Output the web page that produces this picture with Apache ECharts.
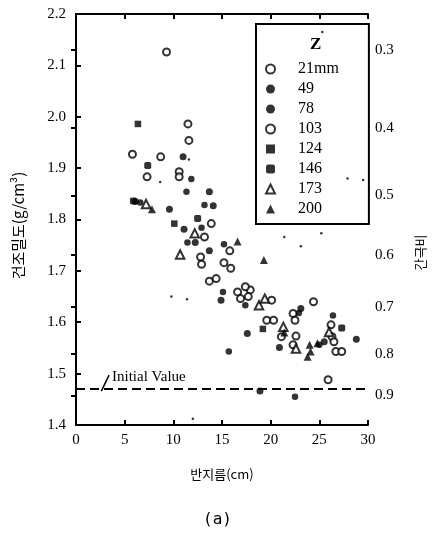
<!DOCTYPE html>
<html>
<head>
<meta charset="utf-8">
<script src="https://cdn.jsdelivr.net/npm/echarts@6/dist/echarts.min.js"></script>
<style>
  html, body { margin: 0; padding: 0; background: #fff; }
  #chart { width: 435px; height: 533px; }
</style>
</head>
<body>
<div id="chart"></div>
<script>
// Z 깊이별 측정값 [반지름(cm), 건조밀도(g/cm3)]
var z21 = [[9.3,2.126],[11.5,1.986],[5.8,1.927],[7.3,1.883],[10.6,1.893],[13.2,1.766],[12.8,1.727],[15.2,1.716],[13.7,1.680],[16.6,1.659],[17.9,1.663],[19.6,1.604],[22.3,1.617],[24.4,1.640],[22.6,1.573],[26.2,1.595],[26.7,1.543],[25.9,1.488]];
var z49 = [[11.0,1.922],[13.7,1.854],[6.1,1.835],[9.6,1.820],[14.1,1.827],[11.1,1.781],[12.25,1.755],[13.7,1.739],[14.9,1.643],[17.6,1.578],[20.9,1.551],[23.1,1.627],[28.8,1.567],[25.5,1.562],[18.9,1.466]];
var z78 = [[11.85,1.879],[11.35,1.854],[6.6,1.833],[13.2,1.828],[12.9,1.784],[11.45,1.755],[15.2,1.752],[15.1,1.659],[17.4,1.633],[15.7,1.543],[22.9,1.618],[26.4,1.613],[25.0,1.556],[22.5,1.455]];
var z103 = [[11.6,1.954],[8.7,1.922],[10.6,1.883],[13.9,1.792],[15.8,1.739],[12.9,1.713],[15.9,1.705],[14.4,1.685],[17.4,1.669],[16.9,1.646],[17.7,1.650],[20.1,1.643],[20.3,1.604],[22.5,1.604],[21.1,1.572],[22.3,1.556],[26.3,1.572],[26.5,1.562],[27.3,1.543]];
var z124 = [[6.36,1.986],[10.1,1.792],[19.2,1.587]];
var z146 = [[7.37,1.905],[12.5,1.802],[27.3,1.589],[5.9,1.836]];
var z173 = [[7.2,1.830],[12.2,1.773],[10.7,1.732],[18.8,1.633],[19.4,1.646],[21.3,1.591],[22.6,1.549],[26.0,1.581]];
var z200 = [[7.8,1.820],[16.6,1.757],[19.3,1.721],[24.0,1.556],[23.8,1.533],[24.1,1.543],[21.4,1.580],[24.8,1.559]];
// 작은 점들
var specks = [[9.8,1.650],[11.4,1.645],[8.65,1.873],[11.6,1.917],[21.4,1.766],[23.1,1.748],[25.2,1.773],[27.9,1.880],[29.5,1.877],[25.3,2.165],[12.0,1.412]];

var seriesNames = ['21mm', '49', '78', '103', '124', '146', '173', '200'];
var initialValue = 1.47;
var leaderLine = [[2.6, 1.466], [3.4, 1.497]];

// 오른쪽 축: 간극비 눈금 (e = Gs/ρd - 1)
var voidRatios = [0.3, 0.4, 0.5, 0.6, 0.7, 0.8, 0.9];
var GS = 2.77;
var voidTickDensity = voidRatios.map(function (e) { return GS / (1 + e); });

var serif = 'Liberation Serif';
var kr = 'Noto Sans CJK KR';

function openStyle() {
  return { color: '#fff', borderColor: '#000', borderWidth: 2 };
}
function solidStyle() {
  return { color: '#000' };
}

var myChart = echarts.init(document.getElementById('chart'));
myChart.setOption({
  animation: false,
  title: [
    { text: 'Z', left: 305, top: 31, textStyle: { fontFamily: serif, fontSize: 17, fontWeight: 'bold', color: '#000' } },
    { text: '(a)', left: 'center', top: 507, textStyle: { fontFamily: 'DejaVu Sans Mono', fontSize: 16, fontWeight: 'normal', color: '#000' } }
  ],
  legend: {
    data: seriesNames,
    orient: 'vertical',
    left: 256,
    top: 24,
    width: 105,
    padding: [36, 30, 6, 9],
    itemWidth: 9,
    itemHeight: 9,
    itemGap: 2,
    borderColor: '#000',
    borderWidth: 2,
    textStyle: { fontFamily: serif, fontSize: 16, color: '#000', lineHeight: 18, padding: [0, 0, 0, 18] }
  },
  grid: { left: 76, right: 60, top: 14, bottom: 108 },
  xAxis: [{
    type: 'value', min: 0, max: 30, interval: 5,
    name: '반지름(cm)', nameLocation: 'middle', nameGap: 43,
    nameTextStyle: { fontFamily: kr, fontSize: 13, color: '#000' },
    axisLine: { lineStyle: { color: '#000', width: 2 } },
    axisTick: { inside: true, length: 5, lineStyle: { color: '#000', width: 2 } },
    axisLabel: { fontFamily: serif, fontSize: 15, color: '#000', margin: 8 },
    splitLine: { show: false }
  }, {
    type: 'value', min: 0, max: 30, interval: 5, position: 'top',
    axisLine: { lineStyle: { color: '#000', width: 2 } },
    axisTick: { inside: true, length: 5, lineStyle: { color: '#000', width: 2 } },
    axisLabel: { show: false },
    splitLine: { show: false }
  }],
  yAxis: [{
    type: 'value', min: 1.4, max: 2.2, interval: 0.1,
    name: '건조밀도(g/cm³)', nameLocation: 'middle', nameGap: 50, nameRotate: 90,
    nameTextStyle: { fontFamily: kr, fontSize: 15, color: '#000', padding: [0, 12, 0, 0] },
    axisLine: { lineStyle: { color: '#000', width: 2 } },
    axisTick: { inside: true, length: 5, lineStyle: { color: '#000', width: 2 } },
    axisLabel: { fontFamily: serif, fontSize: 15, color: '#000', margin: 10,
      formatter: function (v) { return v.toFixed(1); } },
    splitLine: { show: false }
  }, {
    type: 'value', min: 1.4, max: 2.2, position: 'right',
    name: '간극비', nameLocation: 'middle', nameGap: 46, nameRotate: 90,
    nameTextStyle: { fontFamily: kr, fontSize: 13, color: '#000', padding: [0, 66, 0, 0] },
    axisLine: { lineStyle: { color: '#000', width: 2 } },
    axisTick: { inside: true, length: 5, customValues: voidTickDensity, lineStyle: { color: '#000', width: 2 } },
    axisLabel: { fontFamily: serif, fontSize: 15, color: '#000', margin: 7,
      customValues: voidTickDensity,
      formatter: function (v) { return (GS / v - 1).toFixed(1); } },
    splitLine: { show: false }
  }],
  series: [
    { name: '21mm', type: 'scatter', data: z21, symbol: 'circle', symbolSize: 7, itemStyle: openStyle() },
    { name: '49', type: 'scatter', data: z49, symbol: 'circle', symbolSize: 7, itemStyle: solidStyle() },
    { name: '78', type: 'scatter', data: z78, symbol: 'circle', symbolSize: 6.5, itemStyle: solidStyle() },
    { name: '103', type: 'scatter', data: z103, symbol: 'circle', symbolSize: 7, itemStyle: openStyle() },
    { name: '124', type: 'scatter', data: z124, symbol: 'rect', symbolSize: 6.5, itemStyle: solidStyle() },
    { name: '146', type: 'scatter', data: z146, symbol: 'roundRect', symbolSize: 7, itemStyle: solidStyle() },
    { name: '173', type: 'scatter', data: z173, symbol: 'triangle', symbolSize: 8.5, itemStyle: openStyle() },
    { name: '200', type: 'scatter', data: z200, symbol: 'triangle', symbolSize: 8, itemStyle: solidStyle() },
    {
      name: 'specks', type: 'scatter', data: specks, symbol: 'circle', symbolSize: 2.5,
      itemStyle: { color: '#000' }, silent: true,
      markLine: {
        silent: true, symbol: 'none', animation: false,
        data: [
          { yAxis: initialValue,
            lineStyle: { type: [9, 5], color: '#000', width: 2 },
            label: { show: true, formatter: 'Initial Value', position: 'insideStartTop',
              fontFamily: serif, fontSize: 15, color: '#000', padding: [0, 0, 0, 32], distance: 4 } },
          [{ coord: leaderLine[0], lineStyle: { type: 'solid', color: '#000', width: 1.5 }, label: { show: false } },
           { coord: leaderLine[1] }]
        ]
      }
    }
  ]
});
</script>
</body>
</html>
